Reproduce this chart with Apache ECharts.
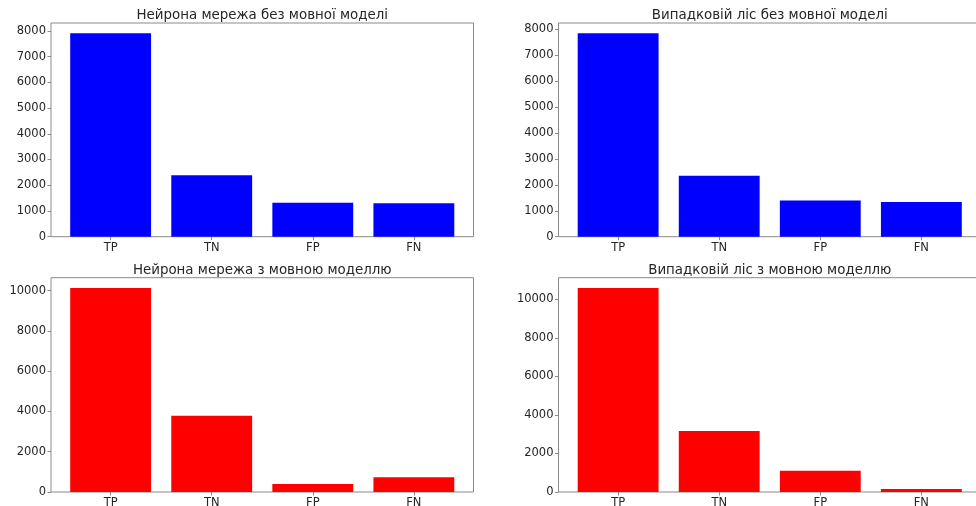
<!DOCTYPE html>
<html>
<head>
<meta charset="utf-8">
<title>Confusion counts</title>
<script src="https://cdn.jsdelivr.net/npm/echarts@6/dist/echarts.min.js"></script>
<style>
  html, body { margin: 0; padding: 0; background: #fff; }
  #chart { width: 976px; height: 506px; }
</style>
</head>
<body>
<div id="chart"></div>
<script>
// Category names shared by every panel
const categories = ['TP', 'TN', 'FP', 'FN'];

// Panel titles
const titleNnBase = 'Нейрона мережа без мовної моделі';
const titleRfBase = 'Випадковій ліс без мовної моделі';
const titleNnLm = 'Нейрона мережа з мовною моделлю';
const titleRfLm = 'Випадковій ліс з мовною моделлю';

// Counts per category
const nnBase = [7910, 2390, 1320, 1300];
const rfBase = [7850, 2350, 1400, 1340];
const nnLm = [10130, 3790, 400, 730];
const rfLm = [10600, 3170, 1110, 150];

// Y tick labels
const ticksThousand = [0, 1000, 2000, 3000, 4000, 5000, 6000, 7000, 8000];
const ticksTwoThousand = [0, 2000, 4000, 6000, 8000, 10000];

const chart = echarts.init(document.getElementById('chart'), null, { renderer: 'canvas' });

const FONT = 'DejaVu Sans';
const TEXT = '#262626';
const SPINE = '#8a8a8a';

// Grid rectangles (left, top, width, height)
const grids = [
  { left: 51, top: 23, width: 422.5, height: 213.7 },
  { left: 558.5, top: 23, width: 422.5, height: 213.7 },
  { left: 51, top: 277.7, width: 422.5, height: 214.3 },
  { left: 558.5, top: 277.7, width: 422.5, height: 214.3 }
];

const panels = [
  { title: titleNnBase, values: nnBase, ticks: ticksThousand, color: '#0000ff' },
  { title: titleRfBase, values: rfBase, ticks: ticksThousand, color: '#0000ff' },
  { title: titleNnLm, values: nnLm, ticks: ticksTwoThousand, color: '#ff0000' },
  { title: titleRfLm, values: rfLm, ticks: ticksTwoThousand, color: '#ff0000' }
];

// Bar axis spans the categories with a 5% margin around 0.8-wide bars
const xMin = -0.4 - 0.05 * (categories.length - 1 + 0.8);
const xMax = categories.length - 1 + 0.4 + 0.05 * (categories.length - 1 + 0.8);
const catIdx = categories.map((_, i) => i);

const option = {
  animation: false,
  backgroundColor: '#fff',
  title: panels.map((p, i) => ({
    text: p.title,
    left: grids[i].left + grids[i].width / 2,
    top: grids[i].top - 14.5,
    textAlign: 'center',
    textStyle: { fontFamily: FONT, fontSize: 13.4, fontWeight: 'normal', color: TEXT, lineHeight: 14 },
    padding: 0
  })),
  grid: grids.map(g => Object.assign({}, g, {
    show: true, borderColor: SPINE, borderWidth: 1, backgroundColor: 'transparent',
    containLabel: false, outerBoundsMode: 'none'
  })),
  xAxis: panels.map((p, i) => ({
    type: 'value',
    gridIndex: i,
    position: 'bottom',
    min: xMin,
    max: xMax,
    axisLine: { show: false, onZero: false },
    splitLine: { show: false },
    axisTick: { show: true, customValues: catIdx, length: 3.5, lineStyle: { color: SPINE } },
    axisLabel: {
      customValues: catIdx,
      formatter: v => categories[Math.round(v)],
      margin: 5,
      fontFamily: FONT, fontSize: 11.5, color: TEXT
    }
  })),
  yAxis: panels.map((p, i) => {
    const top = Math.max(...p.values) * 1.05;
    return {
      type: 'value',
      gridIndex: i,
      position: 'left',
      min: 0,
      max: top,
      axisLine: { show: false, onZero: false },
      splitLine: { show: false },
      axisTick: { show: true, customValues: p.ticks, length: 3.5, lineStyle: { color: SPINE } },
      axisLabel: {
        customValues: p.ticks,
        formatter: v => String(Math.round(v)),
        margin: 5,
        fontFamily: FONT, fontSize: 11.5, color: TEXT
      }
    };
  }),
  series: panels.map((p, i) => ({
    type: 'bar',
    xAxisIndex: i,
    yAxisIndex: i,
    barWidth: 0.8 * grids[i].width / (xMax - xMin),
    data: p.values.map((v, k) => [k, v]),
    itemStyle: { color: p.color },
    z: 1
  }))
};

chart.setOption(option);
</script>
</body>
</html>
